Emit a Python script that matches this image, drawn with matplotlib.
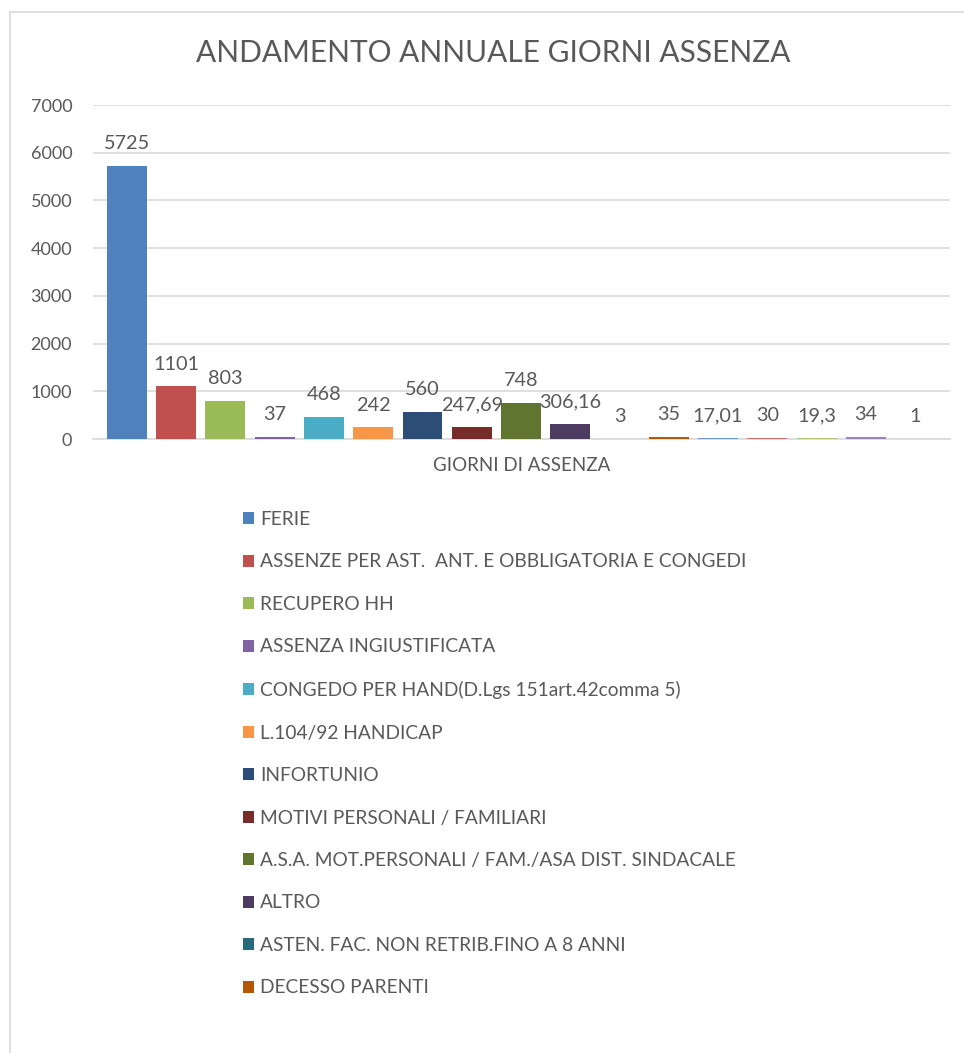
import matplotlib
matplotlib.use("Agg")
import matplotlib.pyplot as plt
from matplotlib.patches import Rectangle, Patch

plt.rcParams['font.family'] = ['Lato', 'DejaVu Sans']

title = "ANDAMENTO ANNUALE GIORNI ASSENZA"
category = "GIORNI DI ASSENZA"
values = [5725, 1101, 803, 37, 468, 242, 560, 247.69, 748, 306.16, 3, 35,
          17.01, 30, 19.3, 34, 1]
colors = ["#4F81BD", "#C0504D", "#9BBB59", "#8064A2", "#4BACC6", "#F79646",
          "#2C4D75", "#772C2A", "#5F7530", "#4D3B62", "#276A7C", "#B65708",
          "#729ACA", "#CD7371", "#AFC97A", "#9983B5", "#6FBDD1"]
legend_names = [
    "FERIE",
    "ASSENZE PER AST.  ANT. E OBBLIGATORIA E CONGEDI",
    "RECUPERO HH",
    "ASSENZA INGIUSTIFICATA",
    "CONGEDO PER HAND(D.Lgs 151art.42comma 5)",
    "L.104/92 HANDICAP",
    "INFORTUNIO",
    "MOTIVI PERSONALI / FAMILIARI",
    "A.S.A. MOT.PERSONALI / FAM./ASA DIST. SINDACALE",
    "ALTRO",
    "ASTEN. FAC. NON RETRIB.FINO A 8 ANNI",
    "DECESSO PARENTI",
]
yticks = [0, 1000, 2000, 3000, 4000, 5000, 6000, 7000]

TXT = "#595959"
GRID = "#D9D9D9"

W, H = 964, 1053
fig = plt.figure(figsize=(W / 100, H / 100), dpi=100)

# chart frame (extends beyond the cropped image)
fig.patches.append(Rectangle((10 / W, -0.1), 1.2, 1 - 12 / H + 0.1,
                             transform=fig.transFigure, fill=False,
                             edgecolor=GRID, linewidth=1.2))

ax = fig.add_axes([93 / W, 1 - 439 / H, (950 - 93) / W, (439 - 105) / H])
xs = list(range(len(values)))
ax.bar(xs, values, width=0.812, color=colors, zorder=3)
ax.set_xlim(-0.69, 16.71)
ax.set_ylim(0, 7000)
ax.set_yticks(yticks)
ax.set_yticklabels([str(t) for t in yticks], color=TXT, fontsize=13)
ax.tick_params(axis='y', length=0, pad=15)
ax.tick_params(axis='x', length=0)
ax.set_xticks([])
ax.grid(axis='y', color=GRID, linewidth=1.2, zorder=0)
for s in ['top', 'right', 'left']:
    ax.spines[s].set_visible(False)
ax.spines['bottom'].set_color(GRID)
ax.spines['bottom'].set_linewidth(1.2)
ax.set_xlabel(category, color=TXT, fontsize=13.5, labelpad=13)

for x, v in zip(xs, values):
    ax.annotate(f"{v:g}".replace('.', ','), (x, v), xytext=(0, 10),
                textcoords='offset points', ha='center', va='bottom',
                fontsize=14.3, color=TXT)

fig.text(493 / W, 1 - 53 / H, title, ha='center', va='center',
         fontsize=21.5, color=TXT)

handles = [Patch(facecolor=c) for c in colors[:len(legend_names)]]
fig.legend(handles, legend_names, loc='upper left',
           bbox_to_anchor=(243 / W, 1 - 511 / H), frameon=False,
           fontsize=13.8, labelcolor=TXT, handlelength=0.57,
           handleheight=0.57, handletextpad=0.31, labelspacing=1.33,
           borderaxespad=0, borderpad=0)

fig.savefig("out.png", dpi=100)
